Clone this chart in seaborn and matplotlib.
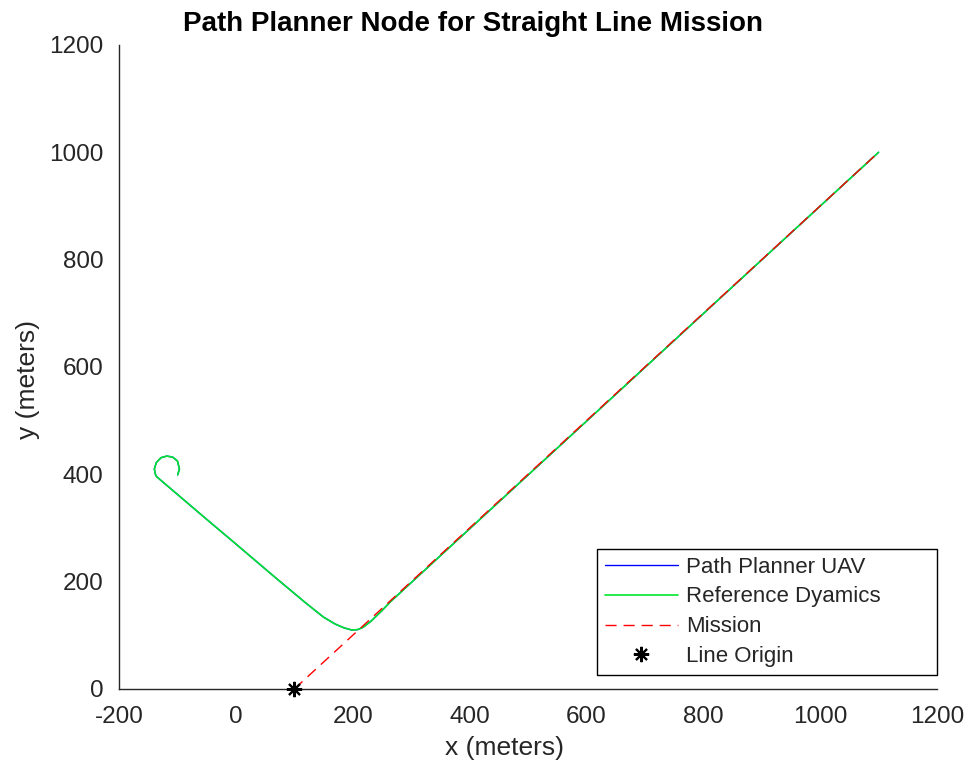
import matplotlib
matplotlib.use("Agg")
import matplotlib.pyplot as plt
import seaborn as sns
import pandas as pd

# Reference dynamics trajectory (meters): loiter hook, approach, then on the line
ref_x = [-99.5, -96.5, -100, -108, -118, -128, -136, -139.5, -137.5, -135.5,
         -53, -4, 64, 120, 150, 170, 185, 198, 208, 218, 232, 250, 265, 1100]
ref_y = [399, 410, 425, 432, 434, 431, 422, 410, 399.5, 395.6,
         319, 274, 211, 160, 134, 121, 114, 110, 110.5, 115, 127, 146, 163, 1000]

# Path planner UAV track (same route as reference dynamics)
uav_x = list(ref_x)
uav_y = list(ref_y)

# Straight-line mission
mission_x = [100, 1100]
mission_y = [0, 1000]

# Line origin
origin_x = [100]
origin_y = [0]

x_ticks = [-200, 0, 200, 400, 600, 800, 1000, 1200]
y_ticks = [0, 200, 400, 600, 800, 1000, 1200]

sns.set_style("white")
plt.rcParams["font.family"] = ["Liberation Sans", "DejaVu Sans"]
plt.rcParams["axes.unicode_minus"] = False

fig = plt.figure(figsize=(9.64, 7.70), dpi=100)
ax = fig.add_axes([0.1234, 0.1052, 0.8486, 0.8364])

df_uav = pd.DataFrame({"x": uav_x, "y": uav_y})
df_ref = pd.DataFrame({"x": ref_x, "y": ref_y})
df_mis = pd.DataFrame({"x": mission_x, "y": mission_y})

sns.lineplot(data=df_uav, x="x", y="y", sort=False, ax=ax, color="#0000ff",
             lw=1.0, label="Path Planner UAV")
sns.lineplot(data=df_ref, x="x", y="y", sort=False, ax=ax, color="#00e62e",
             lw=1.2, label="Reference Dyamics")
sns.lineplot(data=df_mis, x="x", y="y", sort=False, ax=ax, color="#ff0000",
             lw=1.0, dashes=False, label="Mission")
ax.lines[-1].set_dashes((8, 5))
ax.plot(origin_x, origin_y, linestyle="none", marker=(8, 2, 0), ms=11,
        mew=1.5, color="black", label="Line Origin", clip_on=False, zorder=5)

ax.set_xlim(-200, 1200)
ax.set_ylim(0, 1200)
ax.set_xticks(x_ticks)
ax.set_yticks(y_ticks)

for side in ("top", "right"):
    ax.spines[side].set_visible(False)
for side in ("left", "bottom"):
    ax.spines[side].set_color("#262626")
    ax.spines[side].set_linewidth(1.0)

ax.tick_params(direction="in", length=5, width=1, color="#262626",
               labelsize=17.5, labelcolor="#262626")
ax.tick_params(axis="x", pad=12)
ax.tick_params(axis="y", pad=11)

ax.set_xlabel("x (meters)", fontsize=19, color="#262626")
ax.set_ylabel("y (meters)", fontsize=19, color="#262626")
ax.xaxis.set_label_coords(0.4707, -0.073)
ax.yaxis.set_label_coords(-0.0966, 0.481)
ax.set_title("Path Planner Node for Straight Line Mission", fontsize=20,
             fontweight="bold", color="black", pad=10, x=0.4328)

leg = ax.legend(loc="lower left", bbox_to_anchor=(0.5844, 0.0217, 0.4156, 0.2),
                mode="expand", borderaxespad=0, fontsize=16, frameon=True,
                fancybox=False, handlelength=3.3, handletextpad=0.35,
                labelspacing=0.4, borderpad=0.35)
leg.get_frame().set_edgecolor("black")
leg.get_frame().set_linewidth(1.0)
leg.get_frame().set_alpha(1.0)

fig.savefig("out.png", dpi=100)
